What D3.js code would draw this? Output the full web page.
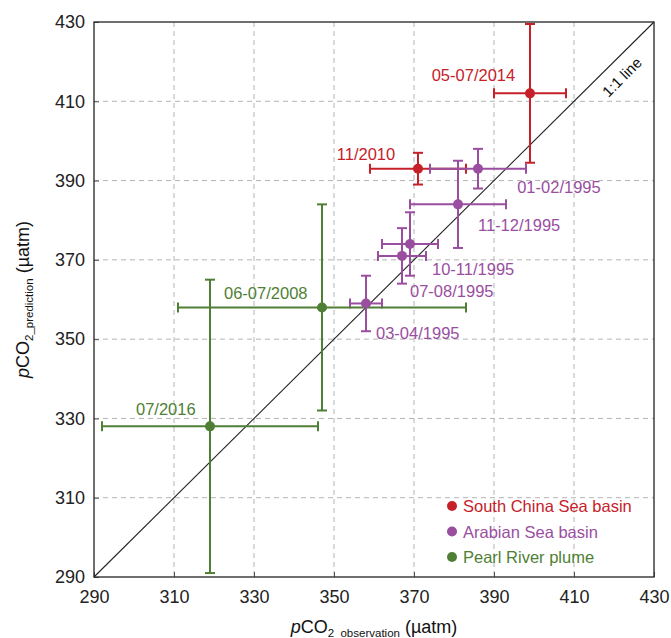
<!DOCTYPE html>
<html>
<head>
<meta charset="utf-8">
<script src="https://cdn.jsdelivr.net/npm/d3@7"></script>
<style>
  body { margin: 0; background: #fff; }
  svg text { font-family: "Liberation Sans", Arial, sans-serif; }
</style>
</head>
<body>
<svg id="chart" width="671" height="638"></svg>
<script>
// observed vs predicted pCO2, with error bars (µatm)
var periods = ['05-07/2014', '11/2010', '01-02/1995', '11-12/1995', '10-11/1995',
               '07-08/1995', '03-04/1995', '06-07/2008', '07/2016'];
var regions = ['scs', 'scs', 'arab', 'arab', 'arab', 'arab', 'arab', 'prp', 'prp'];
var observed = [399, 371, 386, 381, 369, 367, 358, 347, 319];
var predicted = [412, 393, 393, 384, 374, 371, 359, 358, 328];
var obsError = [9, 12, 12, 12, 7, 6, 4, 36, 27];
var predError = [17.5, 4, 5, 11, 8, 7, 7, 26, 37];

// where each period label sits, in data units, and which side it hangs from
var labelX = [395.3, 365.3, 395.8, 386, 374.5, 369, 360.5, 322.5, 300.5];
var labelY = [415, 395.2, 386.9, 377.3, 366.2, 360.6, 350, 360.1, 330.9];
var labelAnchor = ['end', 'end', 'start', 'start', 'start', 'start', 'start', 'start', 'start'];

var legendKeys = ['scs', 'arab', 'prp'];
var legendNames = ['South China Sea basin', 'Arabian Sea basin', 'Pearl River plume'];
var ticks = [290, 310, 330, 350, 370, 390, 410, 430];

var colour = d3.scaleOrdinal()
  .domain(legendKeys)
  .range(['#c62129', '#9a4e9f', '#4f7f35']);

var margin = {top: 22, left: 94},
    width = 560,
    height = 555;

var svg = d3.select('#chart');
var g = svg.append('g')
  .attr('transform', 'translate(' + margin.left + ',' + margin.top + ')');

var x = d3.scaleLinear().domain([290, 430]).range([0, width]);
var y = d3.scaleLinear().domain([290, 430]).range([height, 0]);

// dashed grid
g.append('g').selectAll('line.vgrid')
  .data(ticks.slice(1, -1))
  .enter().append('line')
  .attr('x1', x).attr('x2', x)
  .attr('y1', 0).attr('y2', height)
  .attr('stroke', '#b4b4b4').attr('stroke-dasharray', '5,4');

g.append('g').selectAll('line.hgrid')
  .data(ticks.slice(1, -1))
  .enter().append('line')
  .attr('y1', y).attr('y2', y)
  .attr('x1', 0).attr('x2', width)
  .attr('stroke', '#b4b4b4').attr('stroke-dasharray', '5,4');

// axes, ticks point inwards
var xAxis = g.append('g')
  .attr('transform', 'translate(0,' + height + ')')
  .call(d3.axisBottom(x).tickValues(ticks).tickSize(-5).tickPadding(13));
var yAxis = g.append('g')
  .call(d3.axisLeft(y).tickValues(ticks).tickSize(-5).tickPadding(9));

[xAxis, yAxis].forEach(function(a) {
  a.select('.domain').remove();
  a.selectAll('line').attr('stroke', '#555');
  a.selectAll('text').attr('font-size', 18).attr('fill', '#222')
    .attr('font-family', '"Liberation Sans", Arial, sans-serif');
});

// frame
g.append('rect')
  .attr('width', width).attr('height', height)
  .attr('fill', 'none').attr('stroke', '#222').attr('stroke-width', 1.3);

// 1:1 line
g.append('line')
  .attr('x1', x(290)).attr('y1', y(290))
  .attr('x2', x(430)).attr('y2', y(430))
  .attr('stroke', '#222').attr('stroke-width', 1.1);

g.append('text')
  .attr('transform', 'translate(' + x(422) + ',' + y(416.1) + ') rotate(-45)')
  .attr('text-anchor', 'middle')
  .attr('dy', '0.35em')
  .attr('font-size', 15)
  .attr('fill', '#111')
  .text('1:1 line');

// error bars
var pts = d3.range(periods.length);
var cap = 5;

var bars = g.append('g').selectAll('g.bar')
  .data(pts)
  .enter().append('g')
  .attr('stroke', function(i) { return colour(regions[i]); })
  .attr('stroke-width', 2);

bars.append('line')
  .attr('x1', function(i) { return x(observed[i] - obsError[i]); })
  .attr('x2', function(i) { return x(observed[i] + obsError[i]); })
  .attr('y1', function(i) { return y(predicted[i]); })
  .attr('y2', function(i) { return y(predicted[i]); });
bars.append('line')
  .attr('x1', function(i) { return x(observed[i]); })
  .attr('x2', function(i) { return x(observed[i]); })
  .attr('y1', function(i) { return y(predicted[i] - predError[i]); })
  .attr('y2', function(i) { return y(predicted[i] + predError[i]); });

[-1, 1].forEach(function(s) {
  bars.append('line')
    .attr('x1', function(i) { return x(observed[i] + s * obsError[i]); })
    .attr('x2', function(i) { return x(observed[i] + s * obsError[i]); })
    .attr('y1', function(i) { return y(predicted[i]) - cap; })
    .attr('y2', function(i) { return y(predicted[i]) + cap; });
  bars.append('line')
    .attr('y1', function(i) { return y(predicted[i] + s * predError[i]); })
    .attr('y2', function(i) { return y(predicted[i] + s * predError[i]); })
    .attr('x1', function(i) { return x(observed[i]) - cap; })
    .attr('x2', function(i) { return x(observed[i]) + cap; });
});

g.append('g').selectAll('circle')
  .data(pts)
  .enter().append('circle')
  .attr('cx', function(i) { return x(observed[i]); })
  .attr('cy', function(i) { return y(predicted[i]); })
  .attr('r', 5)
  .attr('fill', function(i) { return colour(regions[i]); });

g.append('g').selectAll('text')
  .data(pts)
  .enter().append('text')
  .attr('x', function(i) { return x(labelX[i]); })
  .attr('y', function(i) { return y(labelY[i]); })
  .attr('text-anchor', function(i) { return labelAnchor[i]; })
  .attr('font-size', 16.5)
  .attr('fill', function(i) { return colour(regions[i]); })
  .text(function(i) { return periods[i]; });

// legend
var legend = g.append('g')
  .attr('transform', 'translate(' + (width - 202) + ',' + (height - 71) + ')');
var item = legend.selectAll('g')
  .data(legendKeys)
  .enter().append('g')
  .attr('transform', function(d, i) { return 'translate(0,' + i * 25.5 + ')'; });
item.append('circle')
  .attr('r', 5)
  .attr('fill', colour);
item.append('text')
  .attr('x', 11).attr('y', 6)
  .attr('font-size', 16.5)
  .attr('fill', colour)
  .text(function(d, i) { return legendNames[i]; });

// axis titles
var xt = svg.append('text')
  .attr('x', margin.left + width / 2)
  .attr('y', 633)
  .attr('text-anchor', 'middle')
  .attr('font-size', 18)
  .attr('fill', '#111');
xt.append('tspan').attr('font-style', 'italic').text('p');
xt.append('tspan').text('CO');
xt.append('tspan').attr('font-size', 11.5).attr('dy', 4).text('2_observation');
xt.append('tspan').attr('dy', -4).text(' (µatm)');

var yt = svg.append('text')
  .attr('transform', 'translate(29,' + (margin.top + height / 2) + ') rotate(-90)')
  .attr('text-anchor', 'middle')
  .attr('font-size', 18)
  .attr('fill', '#111');
yt.append('tspan').attr('font-style', 'italic').text('p');
yt.append('tspan').text('CO');
yt.append('tspan').attr('font-size', 11.5).attr('dy', 4).text('2_prediction');
yt.append('tspan').attr('dy', -4).text(' (µatm)');
</script>
</body>
</html>
